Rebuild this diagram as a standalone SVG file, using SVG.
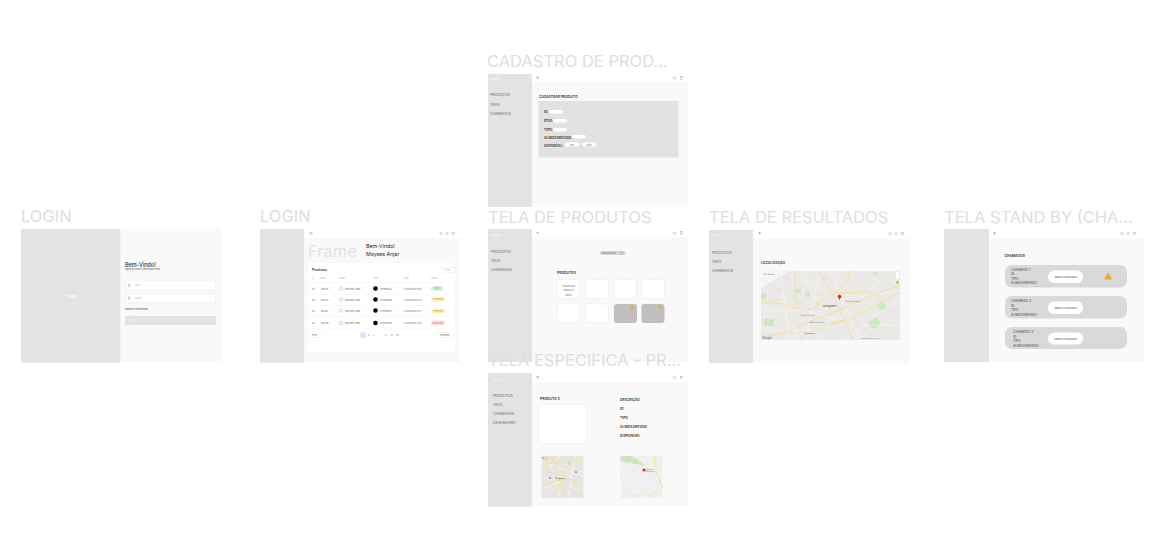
<svg xmlns="http://www.w3.org/2000/svg" width="1168" height="559" viewBox="0 0 1168 559">
<style>
text{font-family:"Inter","Liberation Sans",sans-serif;fill:#222}
.title{font-size:16.5px;fill:#dedede}
.bg{fill:#f9f9f9}.side{fill:#e3e3e3}.top{fill:#fff}
.nav{font-size:3.6px;fill:#666}
.lab{font-size:3.4px;font-weight:600;fill:#333}
.reg{font-size:3.3px;font-weight:400;fill:#444}
.tiny{font-size:2.4px;fill:#666}
.btn{font-size:2.7px;fill:#444}
.head{font-size:2.2px;fill:#bbb}
.card{fill:#fff;stroke:#e8e8e8;stroke-width:.5}
.ic{fill:none;stroke:#888;stroke-width:.35}
.wh{fill:#fff}
.warn{fill:#e6ae2e}
.cham{fill:#d9d9d9}
.road{fill:none;stroke:#f8dfa0;stroke-width:1}
.st{fill:none;stroke:#f8f8f8;stroke-width:.6}
.thin{fill:none;stroke:#d2d2d2;stroke-width:.25}
</style>
<defs>
<g id="icons"><circle class="ic" cx="0" cy="0" r="1.200"/><circle class="ic" cx="6" cy="0" r="1.200"/><rect class="ic" x="11" y="-1.200" width="2.200" height="2.400"/></g>
<g id="icons2"><circle class="ic" cx="0" cy="0" r="1.200"/><rect class="ic" x="6" y="-1.200" width="2.200" height="2.400"/></g>
<path id="tri" d="M0 0l2.200-3.600 2.200 3.600z" class="warn"/>
</defs>

<g id="login">
<text class="title" x="21" y="222">LOGIN</text>
<rect class="bg" x="21" y="229" width="200" height="133.500"/>
<rect class="side" x="21" y="229" width="99.300" height="133.500"/>
<text x="72" y="298" text-anchor="middle" style="font-size:3.600px;font-weight:700;fill:#fff">LOGO</text>
<text x="125" y="266.500" style="font-size:5.500px;font-weight:500;fill:#333">Bem-Vindo!</text>
<text x="125" y="270" style="font-size:2.100px;fill:#555">Digite seu email e senha para entrar</text>
<rect class="card" x="125.500" y="281" width="90" height="8.500" rx="1.500"/>
<rect class="card" x="125.500" y="294" width="90" height="8.500" rx="1.500"/>
<rect class="ic" x="128.200" y="284" width="2.400" height="2.400"/>
<rect class="ic" x="128.200" y="297" width="2.400" height="2.400"/>
<text class="head" x="135" y="286">Email</text>
<text class="head" x="135" y="299">Senha</text>
<text x="125" y="310.300" style="font-size:2.100px;fill:#444">Esqueceu minha senha</text>
<rect x="125" y="316" width="91" height="9" rx="1" fill="#e3e3e3"/>
<text x="127" y="321.300" style="font-size:2.200px;fill:#fff">Entrar</text>
</g>

<g id="dashboard">
<text class="title" x="260" y="222">LOGIN</text>
<rect class="bg" x="260" y="229" width="200" height="133.500"/>
<rect class="side" x="260" y="229" width="44" height="133.500"/>
<rect class="top" x="304" y="229" width="156" height="9"/>
<rect class="ic" x="310" y="232.300" width="2" height="2"/>
<use href="#icons" x="441" y="233.500"/>
<text x="308" y="257" style="font-size:16.500px;fill:#e2e2e2">Frame</text>
<text x="366" y="248" style="font-size:5.200px;fill:#222">Bem-Vindo!</text>
<text x="366" y="255.500" style="font-size:5.200px;fill:#222">Moyses Anjar</text>
<rect x="308" y="263" width="147" height="89" rx="2" fill="#fff"/>
<text x="312" y="271" style="font-size:3.400px;font-weight:600;fill:#333">Produtos</text>
<rect class="card" x="443" y="267.500" width="12" height="5" rx=".8"/>
<text class="head" x="445" y="271">Filter</text>
<text class="head" x="312" y="278.500">#</text>
<text class="head" x="320" y="278.500">Order</text>
<text class="head" x="339" y="278.500">Name</text>
<text class="head" x="374" y="278.500">Item</text>
<text class="head" x="404" y="278.500">Date</text>
<text class="head" x="431" y="278.500">Status</text>
<path d="M308 282.500H455M308 294.500H455M308 305.500H455M308 316.500H455M308 329H455" stroke="#f0f0f0" stroke-width=".5"/>
<g id="row1">
<text class="tiny" x="312" y="289.500">01</text><text class="tiny" x="321" y="289.500">#2570</text>
<circle class="ic" cx="341" cy="288.500" r="1.600"/><text class="tiny" x="345" y="289.500">Moyses Anjar</text>
<circle cx="375.500" cy="288.500" r="2.300"/><text class="tiny" x="380" y="289.500">In Pesca A</text>
<text class="tiny" x="404" y="289.500">7/28/2025 9:52</text>
<rect x="431" y="286" width="12.500" height="5" rx="2.500" fill="#d5eed5"/><text x="437" y="289.300" text-anchor="middle" style="font-size:2.200px;fill:#6a6">Easy</text>
</g>
<g id="row2">
<text class="tiny" x="312" y="300.500">02</text><text class="tiny" x="321" y="300.500">#2547</text>
<circle class="ic" cx="341" cy="299.500" r="1.600"/><text class="tiny" x="345" y="300.500">Moyses Anjar</text>
<circle cx="375.500" cy="299.500" r="2.300"/><text class="tiny" x="380" y="300.500">In Pesca B</text>
<text class="tiny" x="404" y="300.500">7/28/2025 9:43</text>
<rect x="431" y="297" width="14" height="5" rx="2.500" fill="#fdf2c4"/><text x="438" y="300.300" text-anchor="middle" style="font-size:2.200px;fill:#c90">Pendente</text>
</g>
<g id="row3">
<text class="tiny" x="312" y="311.500">03</text><text class="tiny" x="321" y="311.500">#2461</text>
<circle class="ic" cx="341" cy="310.500" r="1.600"/><text class="tiny" x="345" y="311.500">Moyses Anjar</text>
<circle cx="375.500" cy="310.500" r="2.300"/><text class="tiny" x="380" y="311.500">In Pesca C</text>
<text class="tiny" x="404" y="311.500">7/28/2025 8:15</text>
<rect x="431" y="308.500" width="14" height="5" rx="2.500" fill="#fdf2c4"/><text x="438" y="311.800" text-anchor="middle" style="font-size:2.200px;fill:#c90">Pendente</text>
</g>
<g id="row4">
<text class="tiny" x="312" y="324">04</text><text class="tiny" x="321" y="324">#2536</text>
<circle class="ic" cx="341" cy="323" r="1.600"/><text class="tiny" x="345" y="324">Moyses Anjar</text>
<circle cx="375.500" cy="323" r="2.300"/><text class="tiny" x="380" y="324">In Pesca D</text>
<text class="tiny" x="404" y="324">7/28/2025 7:54</text>
<rect x="431" y="320.500" width="14" height="5" rx="2.500" fill="#fbdde2"/><text x="438" y="323.800" text-anchor="middle" style="font-size:2.200px;fill:#d77">Cancelado</text>
</g>
<rect class="card" x="309" y="332.500" width="13" height="5" rx="2"/><text class="tiny" x="312" y="336">Prev</text>
<rect x="360" y="332" width="6" height="6" rx="1" fill="#dcebfb"/>
<text class="tiny" x="362" y="336" style="fill:#48c">1</text>
<text class="tiny" x="368" y="336">2</text>
<text class="tiny" x="373" y="336">3</text>
<text class="tiny" x="379" y="336">...</text>
<text class="tiny" x="385" y="336">8</text>
<text class="tiny" x="391" y="336">9</text>
<text class="tiny" x="396" y="336">10</text>
<rect class="card" x="438" y="332.500" width="16" height="5" rx="1"/><text class="tiny" x="440" y="336">Próximo</text>
</g>

<g id="cadastro">
<rect class="bg" x="488" y="74" width="200" height="133"/>
<rect class="side" x="488" y="74" width="44" height="133"/>
<rect class="top" x="532" y="74" width="156" height="8"/>
<text x="490" y="80" style="font-size:2.500px;fill:#fff">Moysos</text>
<text class="title" x="487" y="66.500">CADASTRO DE PROD...</text>
<rect class="ic" x="537" y="77" width="1.800" height="1.800"/>
<use href="#icons2" x="674.500" y="78"/>
<text class="nav" x="490" y="96">PRODUTOS</text>
<text class="nav" x="490" y="105.500">TAGS</text>
<text class="nav" x="490" y="114.500">CHAMADOS</text>
<text class="lab" x="539" y="98">CADASTRAR PRODUTO</text>
<rect x="538.500" y="101" width="140" height="56.500" fill="#e2e2e2"/>
<text class="lab" x="544" y="112.500">ID:</text><rect class="wh" x="549" y="110" width="14" height="3.500" rx="1.700"/>
<text class="lab" x="544" y="121.500">BTIO:</text><rect class="wh" x="553" y="119" width="14" height="3.500" rx="1.700"/>
<text class="lab" x="544" y="130.500">TIPO:</text><rect class="wh" x="553" y="128" width="14" height="3.500" rx="1.700"/>
<text class="lab" x="544" y="138.500">ALMOXARIFADO:</text><rect class="wh" x="572" y="135" width="14" height="3.500" rx="1.700"/>
<text class="lab" x="544" y="146.500" style="font-size:3.100px">DISPONÍVEL:</text>
<rect class="wh" x="565" y="142.500" width="14.500" height="4" rx="2"/><text class="tiny" x="569.500" y="145.500">SIM</text>
<rect class="wh" x="582" y="142.500" width="14.500" height="4" rx="2"/><text class="tiny" x="586.500" y="145.500">NÃO</text>
</g>

<g id="produtos">
<rect class="bg" x="488" y="229" width="200" height="133"/>
<rect class="side" x="488" y="229" width="44" height="133"/>
<rect class="top" x="532" y="229" width="156" height="8"/>
<text class="title" x="488" y="222.500">TELA DE PRODUTOS</text>
<text x="491" y="236" style="font-size:2.500px;fill:#fff">Moysos</text>
<rect class="ic" x="537" y="232" width="1.800" height="1.800"/>
<use href="#icons2" x="674.500" y="233"/>
<text class="nav" x="491" y="252.500">PRODUTOS</text>
<text class="nav" x="491" y="261.500">TAGS</text>
<text class="nav" x="491" y="270.500">CHAMADOS</text>
<rect x="599.500" y="251" width="26" height="4" rx="2" fill="#d6d6d6"/>
<text class="tiny" x="602" y="254">PESQUISAR</text><circle class="ic" cx="621.500" cy="253" r="1.100"/>
<text class="lab" x="557" y="273.500">PRODUTOS</text>
<rect class="card" x="557.500" y="279.500" width="22" height="19" rx="3"/>
<text class="tiny" x="568.500" y="286.500" text-anchor="middle" style="font-size:2.100px">CADASTRAR</text>
<text class="tiny" x="568.500" y="291" text-anchor="middle" style="font-size:2.100px">PRODUTO</text>
<text class="tiny" x="568.500" y="295.500" text-anchor="middle" style="font-size:2.100px">NOVO</text>
<rect class="card" x="585.500" y="279.500" width="23" height="19" rx="3"/>
<rect class="card" x="614.500" y="279.500" width="22" height="19" rx="3"/>
<rect class="card" x="641.500" y="279.500" width="23" height="19" rx="3"/>
<rect class="card" x="557.500" y="304" width="22" height="18.500" rx="3"/>
<rect class="card" x="585.500" y="304" width="23" height="18.500" rx="3"/>
<rect x="614" y="304" width="23" height="19" rx="3" fill="#bfbfbf"/>
<rect x="641.500" y="304" width="23" height="19" rx="3" fill="#bfbfbf"/>
<use href="#tri" x="630" y="309"/>
<use href="#tri" x="658" y="309"/>
</g>

<g id="especifica">
<rect class="bg" x="488" y="373" width="200" height="133.500"/>
<rect class="side" x="488" y="373" width="44" height="133.500"/>
<rect class="top" x="532" y="373" width="156" height="9"/>
<text class="title" x="488" y="366">TELA ESPECIFICA - PR...</text>
<text x="494" y="379" style="font-size:1.600px;fill:#fff">Logo</text>
<text x="494" y="381" style="font-size:1.600px;fill:#fff">Moysos Anjar</text>
<rect class="ic" x="537" y="376.500" width="1.800" height="1.800"/>
<use href="#icons2" x="674.500" y="377.500"/>
<text class="nav" x="493" y="396.500">PRODUTOS</text>
<text class="nav" x="493" y="405.500">TAGS</text>
<text class="nav" x="493" y="414.500">CHAMADOS</text>
<text class="nav" x="493" y="423.500">DASHBOARD</text>
<text class="lab" x="540" y="400">PRODUTO X</text>
<rect class="card" x="538.500" y="404.500" width="48" height="39" rx="4"/>
<text class="lab" x="620" y="401">DESCRIÇÃO</text>
<text class="lab" x="620" y="410">ID</text>
<text class="lab" x="620" y="419">TIPO</text>
<text class="lab" x="620" y="428">ALMOXARIFADO</text>
<text class="lab" x="620" y="437">DISPONÍVEL</text>
<g id="mapa-a">
<rect x="541.500" y="456" width="42" height="42" fill="#e6e5e1"/>
<path class="st" d="M541.500 462L583.500 476M541.500 490L583.500 470M548 456L560 498M575 456L568 498M541.500 476L583.500 492M560 456L541.500 474"/>
<path class="road" d="M541.500 466C552 460 565 464 583.500 459M552 456C556 470 559 480 567 498M541.500 486C555 479 570 476 583.500 484M573 456C566 468 560 478 555 498M560 478C565 486 573 490 578 498M545 470C552 472 558 476 562 480" stroke-width=".8"/>
<circle cx="550" cy="478" r="1" fill="#5a8bd8"/><circle cx="576" cy="472" r="1" fill="#5a8bd8"/><circle cx="543" cy="458" r=".8" fill="#5a8bd8"/>
<rect x="544" y="457" width="5" height="3" fill="#c9e5bd"/><rect x="568" y="462" width="3" height="3" fill="#c9e5bd"/>
<text x="555" y="479" style="font-size:1.800px;fill:#555">Montgomery</text>
</g>
<g id="mapa-b">
<rect x="620.500" y="456" width="42" height="42" fill="#efefef"/>
<path d="M632 456L646 466L620.500 461V456Z" fill="#c9e5bd"/>
<path class="road" d="M655 456C653 470 660 480 662.500 488" stroke-width="2.400"/>
<path class="road" d="M630 495H652C656 492 660 490 662.500 486" stroke-width="2" style="opacity:.5"/>
<path class="st" d="M620.500 470L662.500 492M634 456L620.500 485M650 460L630 498M645 498L662 470M620.500 480L645 498M640 456L662 472"/>
<circle cx="644" cy="470" r="1.500" fill="#e22"/>
<text x="646" y="470" style="font-size:1.500px;fill:#777">Endereço</text>
<text x="646" y="472" style="font-size:1.500px;fill:#777">Montgomery</text>
</g>
</g>

<g id="resultados">
<rect class="bg" x="709" y="230" width="200" height="133"/>
<rect class="side" x="709" y="230" width="44" height="133"/>
<rect class="top" x="753" y="230" width="156" height="8"/>
<text class="title" x="709" y="222.500">TELA DE RESULTADOS</text>
<text x="713" y="236" style="font-size:1.600px;fill:#fff">Moysos Anjar</text>
<rect class="ic" x="759" y="232.500" width="1.800" height="1.800"/>
<use href="#icons" x="890" y="233.800"/>
<text class="nav" x="712" y="254">PRODUTOS</text>
<text class="nav" x="712" y="263">TAGS</text>
<text class="nav" x="712" y="272">CHAMADOS</text>
<text class="lab" x="761" y="264">LOCALIZAÇÃO</text>
<g id="mapa">
<rect x="761" y="271" width="139" height="69" fill="#ebeae6"/>
<path d="M761 271H790L761 288Z" fill="#f5f5f5"/>
<rect x="761" y="294" width="5" height="5" fill="#cbe8be"/>
<rect x="805" y="291" width="5" height="6" fill="#cfe9c4"/><rect x="795" y="289" width="6" height="4" fill="#cfe9c4"/>
<rect x="764" y="319" width="10" height="7" fill="#cbe8be"/><rect x="816" y="302" width="3" height="3" fill="#cfe9c4"/>
<ellipse cx="874" cy="323" rx="6" ry="5" fill="#cbe8be"/><ellipse cx="882" cy="306" rx="4" ry="4" fill="#cfe9c4"/><rect x="873" y="272" width="5" height="3" fill="#cfe9c4"/>
<path class="thin" d="M761 280L800 300M761 290L790 310M770 271L810 290M761 320L800 335M770 340L800 300M790 271L770 300M815 271L860 300M830 300L880 340M850 271L880 300M870 271L900 290M860 340L900 320M835 340L900 305M761 300H790M800 295H835M820 330H870"/>
<path class="st" d="M761 310H800M780 271L790 340M761 330H815M830 271L860 340M815 340L880 280M845 340L900 298M775 300L835 320M800 271L815 300M840 300L900 290M860 325H900M790 320L800 340M820 275L805 340"/>
<path class="road" d="M761 303C780 302 790 305 800 309C815 315 820 298 835 293C845 285 850 280 848 271M795 271C796 285 792 298 800 309M820 275C830 285 835 300 842 315C848 325 850 335 853 340M761 337C785 335 800 325 820 318C840 312 870 293 900 286M830 325C855 320 880 300 900 293M800 340C810 330 830 322 845 320M835 293L870 292"/>
<circle cx="839.500" cy="296.500" r="1.800" fill="#e22"/>
<path d="M838.300 297.500L839.500 300L840.700 297.500Z" fill="#e22"/>
<text x="823" y="307" style="font-size:2.300px;fill:#444">Montgomery</text>
<text x="845" y="302" style="font-size:1.800px;fill:#3a9aa8">Parque da Cidade</text>
<text x="800" y="316" style="font-size:1.800px;fill:#3a9aa8">Colégio São José</text>
<text x="810" y="323" style="font-size:1.800px;fill:#3a9aa8">Mercado Central</text>
<text x="805" y="334" style="font-size:1.800px;fill:#b33">Restaurante</text>
<rect x="762.500" y="272.500" width="14" height="3.500" fill="#fff"/>
<text x="763.500" y="275.300" style="font-size:1.800px;fill:#555">Map Satélite</text>
<rect x="896" y="272" width="3" height="7" fill="#fff"/>
<rect x="896.500" y="281" width="2" height="3" fill="#e6ae2e"/>
<text x="762" y="339" style="font-size:2.800px;font-weight:700;fill:#5a8bd8">Google</text>
<text x="861" y="339" style="font-size:1.300px;fill:#666">Map data ©2025 Google Termos</text>
</g>
</g>

<g id="standby">
<rect class="bg" x="944" y="229" width="200" height="133"/>
<rect class="side" x="944" y="229" width="45" height="133"/>
<rect class="top" x="989" y="229" width="155" height="9"/>
<text class="title" x="944" y="222.500">TELA STAND BY (CHA...</text>
<rect class="ic" x="994" y="232.500" width="1.800" height="1.800"/>
<use href="#icons" x="1122" y="233.500"/>
<text class="lab" x="1004.500" y="257">CHAMADOS</text>
<g id="chamado-1">
<rect class="cham" x="1005" y="265" width="122" height="22.500" rx="7"/>
<text class="reg" x="1011" y="270.500">CHAMADO 1</text>
<text class="reg" x="1011" y="275">ID</text>
<text class="reg" x="1011" y="279.500">TIPO</text>
<text class="reg" x="1011" y="284">ALMOXARIFADO</text>
<rect class="wh" x="1048" y="270.500" width="35" height="12.500" rx="6"/>
<text class="btn" x="1065.500" y="278" text-anchor="middle">ABRIR CHAMADO</text>
<path class="warn" d="M1104 279.500l4.200-7 4.200 7z"/>
</g>
<g id="chamado-2">
<rect class="cham" x="1005" y="296" width="122" height="22.500" rx="7"/>
<text class="reg" x="1011" y="302">CHAMADO 2</text>
<text class="reg" x="1011" y="306.500">ID</text>
<text class="reg" x="1011" y="311">TIPO</text>
<text class="reg" x="1011" y="315.500">ALMOXARIFADO</text>
<rect class="wh" x="1048" y="301.500" width="35" height="12.500" rx="6"/>
<text class="btn" x="1065.500" y="309" text-anchor="middle">ABRIR CHAMADO</text>
</g>
<g id="chamado-3">
<rect class="cham" x="1005" y="327" width="122" height="22" rx="7"/>
<text class="reg" x="1013" y="333">CHAMADO 3</text>
<text class="reg" x="1013" y="337.500">ID</text>
<text class="reg" x="1013" y="342">TIPO</text>
<text class="reg" x="1013" y="346.500">ALMOXARIFADO</text>
<rect class="wh" x="1048" y="332.500" width="35" height="12" rx="6"/>
<text class="btn" x="1065.500" y="339.500" text-anchor="middle">ABRIR CHAMADO</text>
</g>
</g>
</svg>
